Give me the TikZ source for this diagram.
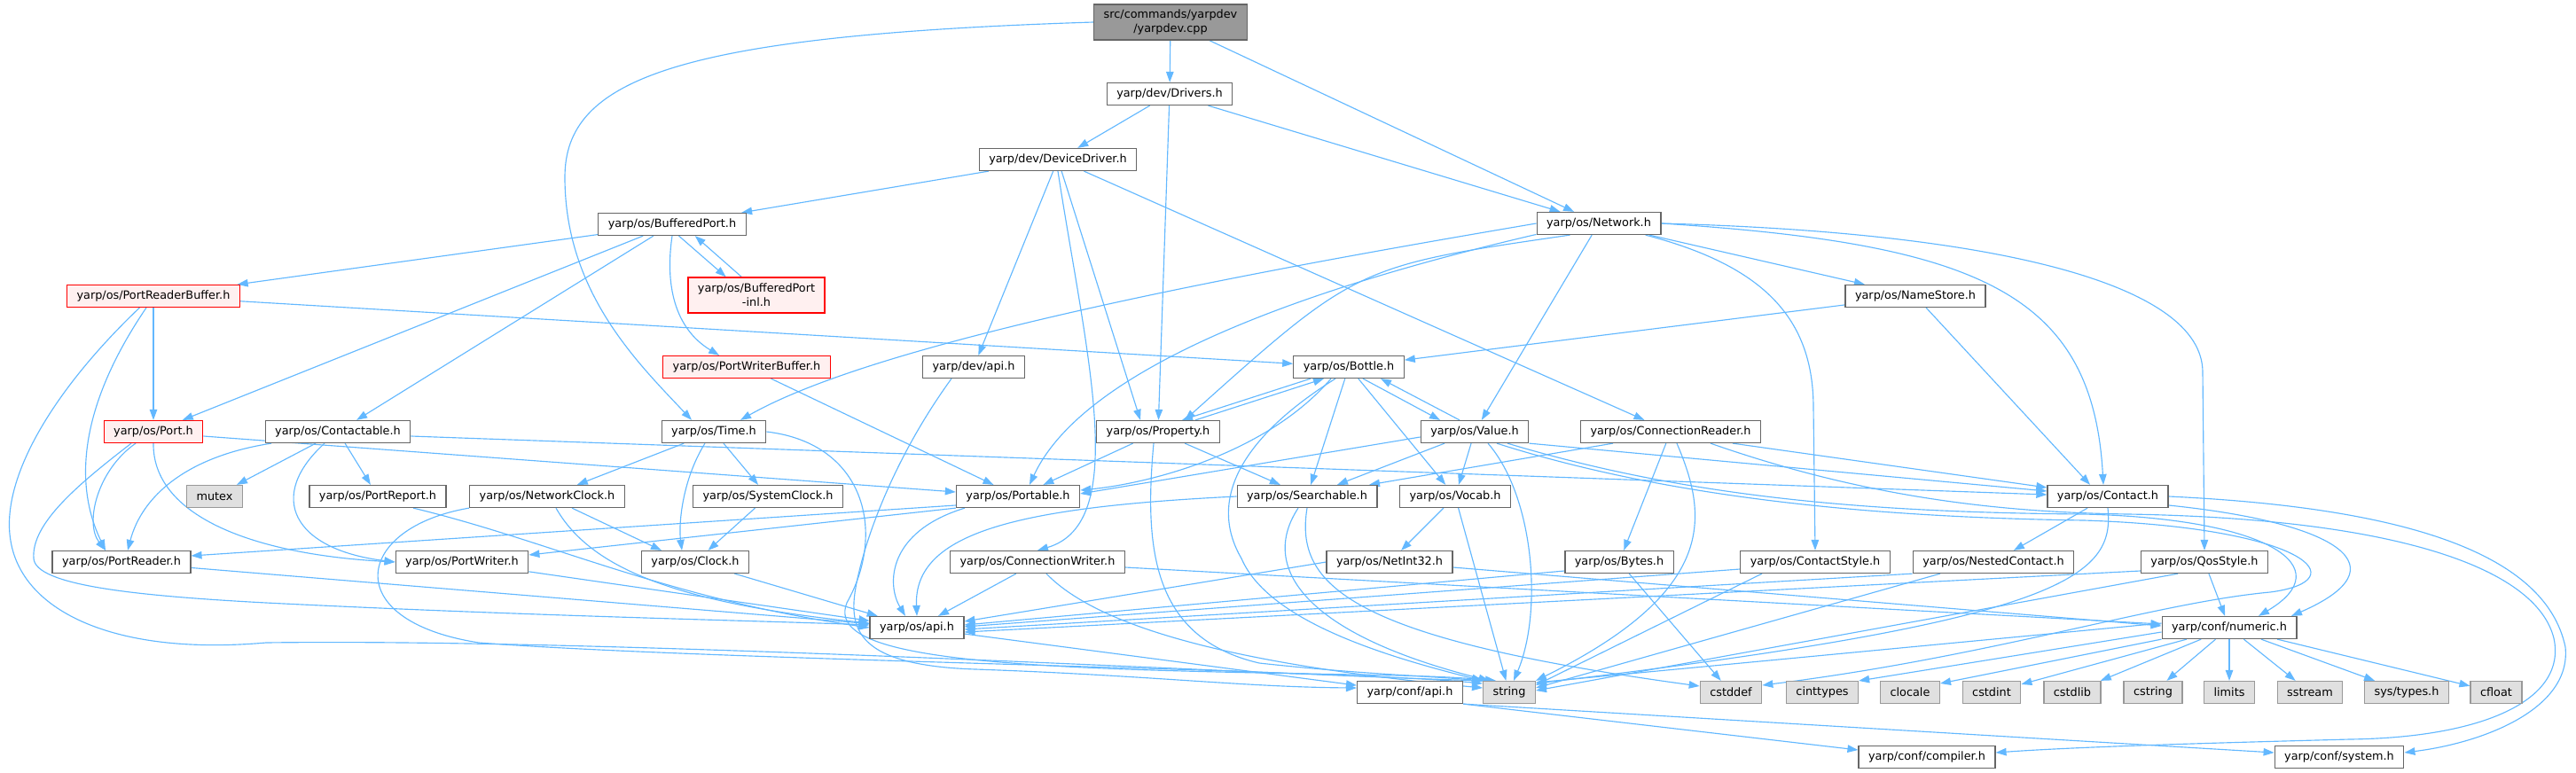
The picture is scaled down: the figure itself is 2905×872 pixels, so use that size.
\documentclass[tikz,border=0pt]{standalone}
\usepackage{fontspec}
\setmainfont{DejaVu Sans}
\usepackage{tikz}
\usetikzlibrary{arrows.meta}
\usetikzlibrary{backgrounds}
\definecolor{edgeblue}{HTML}{63B8FF}
\definecolor{boxgray}{HTML}{666666}
\definecolor{sysgray}{HTML}{999999}
\definecolor{sysfill}{HTML}{E0E0E0}
\definecolor{redline}{HTML}{FF0000}
\definecolor{redfill}{HTML}{FFF0F0}
\definecolor{srcfill}{HTML}{999999}
\tikzstyle{hdr}=[draw=boxgray, fill=white, line width=0.7pt, minimum height=0.5cm, inner xsep=0.22cm, inner ysep=0pt]
\tikzstyle{syshdr}=[hdr, draw=sysgray, fill=sysfill]
\tikzstyle{redhdr}=[hdr, draw=redline, fill=redfill]
\tikzstyle{srchdr}=[hdr, fill=srcfill, align=center, minimum height=0.8cm]
\tikzstyle{dep}=[color=edgeblue, line width=0.65pt]

\begin{document}
\begin{tikzpicture}[x=0.02cm, y=-0.02cm, >={Triangle[length=0.24cm, width=0.17cm]},
                    every node/.style={font=\fontsize{7.3}{9.1}\selectfont}]
    \useasboundingbox (0, 0) rectangle (2905, 872);

    \node[srchdr] at (1320,  25) (Root)             {src/commands/yarpdev\\/yarpdev.cpp};
    \node[hdr]    at (1319, 106) (Drivers)          {yarp/dev/Drivers.h};
    \node[hdr]    at (1193, 180) (DeviceDriver)     {yarp/dev/DeviceDriver.h};
    \node[hdr]    at ( 758, 253) (BufferedPort)     {yarp/os/BufferedPort.h};
    \node[hdr]    at (1803, 252) (Network)          {yarp/os/Network.h};
    \node[redhdr] at ( 173, 334) (PortReaderBuffer) {yarp/os/PortReaderBuffer.h};
    \node[redhdr, align=center, minimum height=0.8cm]
                  at ( 853, 333) (BufferedPortInl)  {yarp/os/BufferedPort\\-inl.h};
    \node[hdr]    at (2160, 334) (NameStore)        {yarp/os/NameStore.h};
    \node[redhdr] at ( 842, 414) (PortWriterBuffer) {yarp/os/PortWriterBuffer.h};
    \node[hdr]    at (1098, 414) (DevApi)           {yarp/dev/api.h};
    \node[hdr]    at (1521, 414) (Bottle)           {yarp/os/Bottle.h};

    \node[redhdr] at ( 173, 487) (Port)             {yarp/os/Port.h};
    \node[hdr]    at ( 381, 487) (Contactable)      {yarp/os/Contactable.h};
    \node[hdr]    at ( 805, 487) (Time)             {yarp/os/Time.h};
    \node[hdr]    at (1306, 487) (Property)         {yarp/os/Property.h};
    \node[hdr]    at (1663, 487) (Value)            {yarp/os/Value.h};
    \node[hdr]    at (1884, 487) (ConnectionReader) {yarp/os/ConnectionReader.h};

    \node[syshdr] at ( 242, 560) (Mutex)            {mutex};
    \node[hdr]    at ( 426, 560) (PortReport)       {yarp/os/PortReport.h};
    \node[hdr]    at ( 617, 560) (NetworkClock)     {yarp/os/NetworkClock.h};
    \node[hdr]    at ( 866, 560) (SystemClock)      {yarp/os/SystemClock.h};
    \node[hdr]    at (1148, 560) (Portable)         {yarp/os/Portable.h};
    \node[hdr]    at (1474, 560) (Searchable)       {yarp/os/Searchable.h};
    \node[hdr]    at (1641, 560) (Vocab)            {yarp/os/Vocab.h};
    \node[hdr]    at (2377, 560) (Contact)          {yarp/os/Contact.h};

    \node[hdr]    at ( 137, 634) (PortReader)       {yarp/os/PortReader.h};
    \node[hdr]    at ( 521, 634) (PortWriter)       {yarp/os/PortWriter.h};
    \node[hdr]    at ( 784, 634) (Clock)            {yarp/os/Clock.h};
    \node[hdr]    at (1170, 634) (ConnectionWriter) {yarp/os/ConnectionWriter.h};
    \node[hdr]    at (1567, 634) (NetInt32)         {yarp/os/NetInt32.h};
    \node[hdr]    at (1826, 634) (Bytes)            {yarp/os/Bytes.h};
    \node[hdr]    at (2047, 634) (ContactStyle)     {yarp/os/ContactStyle.h};
    \node[hdr]    at (2248, 634) (NestedContact)    {yarp/os/NestedContact.h};
    \node[hdr]    at (2486, 634) (QosStyle)         {yarp/os/QosStyle.h};

    \node[hdr]    at (1034, 708) (OsApi)            {yarp/os/api.h};
    \node[hdr]    at (2514, 708) (Numeric)          {yarp/conf/numeric.h};

    \node[hdr]    at (1590, 781) (ConfApi)          {yarp/conf/api.h};
    \node[syshdr] at (1702, 781) (String)           {string};
    \node[syshdr] at (1952, 781) (Cstddef)          {cstddef};
    \node[syshdr] at (2055, 781) (Cinttypes)        {cinttypes};
    \node[syshdr] at (2154, 781) (Clocale)          {clocale};
    \node[syshdr] at (2246, 781) (Cstdint)          {cstdint};
    \node[syshdr] at (2337, 781) (Cstdlib)          {cstdlib};
    \node[syshdr] at (2428, 781) (Cstring)          {cstring};
    \node[syshdr] at (2514, 781) (Limits)           {limits};
    \node[syshdr] at (2605, 781) (Sstream)          {sstream};
    \node[syshdr] at (2714, 781) (SysTypes)         {sys/types.h};
    \node[syshdr] at (2815, 781) (Cfloat)           {cfloat};

    \node[hdr]    at (2173, 854) (Compiler)         {yarp/conf/compiler.h};
    \node[hdr]    at (2638, 854) (System)           {yarp/conf/system.h};

    \begin{scope}[on background layer]
    \begin{scope}[every path/.style=dep]
    % top of the graph
    \draw [->] (Root) -- (Drivers);
    \draw [->] (Root) -- (Network);
    \draw [->] (Root.west) .. controls (760, 40) and (637, 90) .. (637, 200) .. controls (637, 330) and (720, 410) .. ([xshift=-0.5cm]Time.north);
    \draw [->] (Drivers) -- (DeviceDriver);
    \draw [->] (Drivers) -- (Network);
    \draw [->] (Drivers) -- (Property);
    \draw [->] (DeviceDriver) -- (BufferedPort);
    \draw [->] (DeviceDriver) -- (DevApi);
    \draw [->] (DeviceDriver) -- ([xshift=-0.4cm]Property.north);
    \draw [->] (DeviceDriver) -- (ConnectionReader);
    \draw [->] (DeviceDriver.south) .. controls (1225, 400) and (1275, 590) .. (ConnectionWriter.north);

    \draw [->] (BufferedPort) -- (PortReaderBuffer);
    \draw [->] (BufferedPort) -- (Port);
    \draw [->] (BufferedPort) -- (Contactable);
    \draw [->] (BufferedPort.-60) -- (BufferedPortInl.149);
    \draw [->] (BufferedPortInl.129) -- (BufferedPort.-27);
    \draw [->] (BufferedPort.south) .. controls (750, 320) and (760, 370) .. (PortWriterBuffer.157);

    \draw [->] (Network.west) .. controls (1450, 300) and (1000, 380) .. ([xshift=0.6cm]Time.north);
    \draw [->] (Network.-170) .. controls (1450, 330) and (1220, 420) .. ([xshift=0.26cm]Portable.north);
    \draw [->] (Network.-158) .. controls (1530, 300) .. ([xshift=0.6cm]Property.north);
    \draw [->] (Network) -- (Value);
    \draw [->] (Network) -- (NameStore);
    \draw [->] (Network.-14) .. controls (1990, 300) and (2045, 360) .. (2045, 460) -- (ContactStyle.north);
    \draw [->] (Network.east) .. controls (2250, 262) and (2484, 320) .. (2484, 420) -- (QosStyle.north);
    \draw [->] (Network.east) .. controls (2230, 275) and (2360, 330) .. ([xshift=-0.1cm]Contact.north);
    \draw [->] (NameStore) -- (Bottle);
    \draw [->] (NameStore) -- ([xshift=-0.4cm]Contact.north);

    % left part
    \draw [->] (PortReaderBuffer) -- (Port);
    \draw [->] (PortReaderBuffer) -- (Bottle);
    \draw [->] ([xshift=-0.16cm]PortReaderBuffer.south) .. controls (95, 450) and (80, 540) .. ([xshift=-0.36cm]PortReader.north);
    \draw [->] (PortReaderBuffer.-140) .. controls (60, 440) and (0, 540) .. (12, 610) .. controls (25, 690) and (130, 740) .. (300, 725) .. controls (700, 720) and (1400, 760) .. (String.north west);
    \draw [->] ([xshift=-0.4cm]Port.south) .. controls (110, 530) and (95, 590) .. ([xshift=-0.36cm]PortReader.north);
    \draw [->] (Port.south) .. controls (172, 580) and (280, 625) .. (PortWriter.west);
    \draw [->] ([yshift=-0.1cm]Port.east) -- ([yshift=0.1cm]Portable.west);
    \draw [->] ([xshift=-0.5cm]Port.south) .. controls (90, 545) and (35, 590) .. (38, 630) .. controls (40, 660) and (150, 672) .. (300, 680) .. controls (600, 695) and (850, 700) .. ([yshift=0.06cm]OsApi.west);
    \draw [->] (Contactable) -- (Mutex);
    \draw [->] (Contactable) -- (PortReport);
    \draw [->] ([yshift=-0.1cm]Contactable.east) -- ([yshift=0.04cm]Contact.west);
    \draw [->] ([xshift=-1.5cm]Contactable.south) .. controls (210, 515) and (160, 560) .. ([xshift=0.14cm]PortReader.north);
    \draw [->] ([xshift=-0.3cm]Contactable.south) .. controls (300, 560) and (330, 620) .. (PortWriter.west);
    \draw [->] ([xshift=0.8cm]PortReport.south) .. controls (620, 610) and (750, 675) .. (OsApi.west);
    \draw [->] (PortReader) -- (OsApi);
    \draw [->] (PortWriter) -- (OsApi);

    % clocks
    \draw [->] (Time) -- (NetworkClock);
    \draw [->] (Time) -- (SystemClock);
    \draw [->] ([xshift=-0.2cm]Time.south) .. controls (770, 540) and (765, 590) .. ([xshift=-0.3cm]Clock.north);
    \draw [->] (Time.east) .. controls (975, 500) and (1000, 600) .. (955, 680) .. controls (935, 730) and (1050, 748) .. (1300, 756) .. controls (1500, 762) and (1600, 760) .. ([xshift=-0.3cm]String.north);
    \draw [->] ([xshift=0.56cm]NetworkClock.south) -- ([xshift=-0.76cm]Clock.north);
    \draw [->] ([xshift=0.2cm]NetworkClock.south) .. controls (665, 640) and (760, 680) .. ([yshift=0.1cm]OsApi.west);
    \draw [->] (NetworkClock.south west) .. controls (400, 595) and (380, 700) .. (540, 725) .. controls (800, 745) and (1500, 755) .. ([yshift=0.2cm]String.west);
    \draw [->] (SystemClock) -- (Clock);
    \draw [->] (Clock) -- (OsApi);

    % middle part
    \draw [->] (PortWriterBuffer) -- (Portable);
    \draw [->] ([xshift=-0.5cm]DevApi.south) .. controls (1020, 500) and (985, 580) .. (970, 640) .. controls (955, 700) and (950, 750) .. (1100, 755) .. controls (1300, 762) and (1400, 775) .. ([yshift=0.1cm]ConfApi.west);
    \draw [->] ([yshift=-0.2cm]Portable.west) -- ([yshift=0.14cm]PortReader.east);
    \draw [->] (Portable.south west) -- ([yshift=0.16cm]PortWriter.east);
    \draw [->] ([xshift=-1.2cm]Portable.south) .. controls (1000, 600) and (1000, 660) .. ([xshift=-0.26cm]OsApi.north);
    \draw [->] (Searchable.west) .. controls (1150, 572) and (1030, 600) .. (OsApi.north);
    \draw [->] ([xshift=-0.2cm]Searchable.south) .. controls (1420, 640) and (1470, 715) .. ([xshift=-0.45cm]String.north);
    \draw [->] (Searchable.south) .. controls (1460, 660) and (1520, 720) .. ([yshift=0.14cm]Cstddef.west);

    \draw [->] ([xshift=-0.86cm]Bottle.south) -- ([xshift=0.54cm]Property.north);
    \draw [->] ([xshift=0.84cm]Property.north) -- ([xshift=-0.56cm]Bottle.south);
    \draw [->] ([xshift=0.32cm]Bottle.south) -- ([xshift=-0.78cm]Value.north);
    \draw [->] ([xshift=-0.34cm]Value.north) -- ([xshift=0.72cm]Bottle.south);
    \draw [->] (Bottle) -- (Searchable);
    \draw [->] (Bottle) -- (Vocab);
    \draw [->] ([xshift=-0.4cm]Bottle.south) .. controls (1430, 510) and (1300, 545) .. ([yshift=0.14cm]Portable.east);
    \draw [->] ([xshift=-0.3cm]Bottle.south) .. controls (1390, 500) and (1365, 570) .. (1400, 630) .. controls (1430, 700) and (1560, 740) .. (String.north west);
    \draw [->] (Property) -- (Portable);
    \draw [->] (Property) -- (Searchable);
    \draw [->] ([xshift=-0.1cm]Property.south) .. controls (1290, 620) and (1300, 720) .. (1420, 748) .. controls (1530, 760) and (1600, 762) .. (String.north west);

    \draw [->] (Value) -- (Searchable);
    \draw [->] (Value) -- (Vocab);
    \draw [->] ([yshift=-0.12cm]Value.west) -- ([yshift=0.06cm]Portable.east);
    \draw [->] ([xshift=0.3cm]Value.south) .. controls (1730, 560) and (1740, 690) .. ([xshift=0.1cm]String.north);
    \draw [->] (Value.south east) -- ([yshift=0.12cm]Contact.west);
    \draw [->] ([xshift=0.74cm]Value.south) .. controls (1900, 560) and (2100, 578) .. (2350, 580) .. controls (2560, 585) and (2640, 640) .. ([xshift=0.66cm]Numeric.north);
    \draw [->] ([xshift=0.5cm]Value.south) .. controls (1900, 568) and (2150, 584) .. (2350, 587) .. controls (2600, 595) and (2660, 655) .. (2560, 668) .. controls (2430, 680) and (2250, 740) .. ([yshift=0.16cm]Cstddef.east);

    \draw [->] ([xshift=-1.3cm]ConnectionReader.south) -- ([xshift=1.4cm]Searchable.north);
    \draw [->] (ConnectionReader) -- (Bytes);
    \draw [->] ([xshift=0.14cm]ConnectionReader.south) .. controls (1925, 580) and (1940, 665) .. (String.north east);
    \draw [->] ([xshift=1.4cm]ConnectionReader.south) -- ([yshift=0.2cm]Contact.west);
    \draw [->] ([xshift=0.9cm]ConnectionReader.south) .. controls (2100, 560) and (2250, 578) .. (2400, 580) .. controls (2700, 585) and (2860, 640) .. (2880, 720) .. controls (2895, 790) and (2800, 832) .. (2650, 834) .. controls (2500, 838) and (2350, 842) .. ([yshift=0.1cm]Compiler.east);

    % right part
    \draw [->] (Contact.east) .. controls (2700, 572) and (2870, 620) .. (2893, 730) .. controls (2900, 800) and (2800, 838) .. ([yshift=0.1cm]System.east);
    \draw [->] ([yshift=-0.2cm]Contact.east) .. controls (2640, 590) and (2710, 640) .. ([xshift=1.4cm]Numeric.north);
    \draw [->] (Contact) -- (NestedContact);
    \draw [->] (Contact.south) .. controls (2385, 650) and (2330, 700) .. ([yshift=0.2cm]String.east);

    \draw [->] (Vocab) -- (NetInt32);
    \draw [->] (Vocab) -- (String);
    \draw [->] ([yshift=-0.12cm]NetInt32.east) -- ([yshift=0.04cm]Numeric.west);
    \draw [->] (NetInt32.west) -- ([yshift=0.14cm]OsApi.east);
    \draw [->] ([yshift=-0.2cm]Bytes.west) -- ([yshift=0.06cm]OsApi.east);
    \draw [->] (Bytes) -- (Cstddef);
    \draw [->] ([yshift=-0.16cm]ContactStyle.west) -- ([yshift=0.02cm]OsApi.east);
    \draw [->] ([xshift=-1.2cm]ContactStyle.south) -- ([yshift=0.16cm]String.east);
    \draw [->] (NestedContact.south west) -- ([yshift=-0.04cm]OsApi.east);
    \draw [->] ([xshift=-1.2cm]NestedContact.south) -- ([yshift=0.1cm]String.east);
    \draw [->] ([yshift=-0.2cm]QosStyle.west) -- ([yshift=-0.1cm]OsApi.east);
    \draw [->] (QosStyle) -- (Numeric);
    \draw [->] ([xshift=-0.6cm]QosStyle.south) -- ([yshift=0.04cm]String.east);
    \draw [->] (ConnectionWriter) -- (OsApi);
    \draw [->] ([xshift=0.2cm]ConnectionWriter.south) .. controls (1250, 720) and (1450, 755) .. ([yshift=0.1cm]String.west);
    \draw [->] ([yshift=-0.12cm]ConnectionWriter.east) -- ([yshift=0.08cm]Numeric.west);

    % bottom rows
    \draw [->] ([yshift=0.1cm]Numeric.west) -- ([yshift=0.22cm]String.east);
    \draw [->] ([yshift=-0.1cm]Numeric.west) -- ([yshift=0.26cm]Cinttypes.east);
    \draw [->] (Numeric.south west) -- ([yshift=0.2cm]Clocale.east);
    \draw [->] (Numeric) -- (Cstdint);
    \draw [->] (Numeric) -- (Cstdlib);
    \draw [->] (Numeric) -- (Cstring);
    \draw [->] (Numeric) -- (Limits);
    \draw [->] (Numeric) -- (Sstream);
    \draw [->] (Numeric) -- (SysTypes);
    \draw [->] (Numeric) -- (Cfloat);
    \draw [->] (OsApi) -- (ConfApi);
    \draw [->] (ConfApi.south east) -- ([yshift=0.16cm]Compiler.west);
    \draw [->] (ConfApi.south east) -- ([yshift=0.1cm]System.west);
    \end{scope}
    \end{scope}
\end{tikzpicture}
\end{document}
